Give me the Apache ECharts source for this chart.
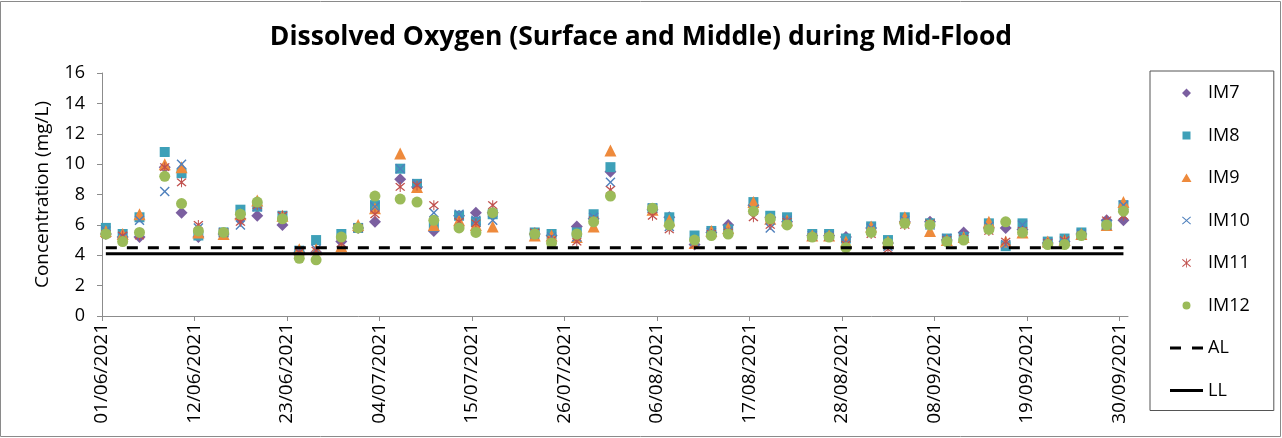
<!DOCTYPE html>
<html>
<head>
<meta charset="utf-8">
<script src="https://cdn.jsdelivr.net/npm/echarts@6/dist/echarts.min.js"></script>
<style>
  html, body { margin: 0; padding: 0; background: #fff; }
  #chart { width: 1282px; height: 438px; }
</style>
</head>
<body>
<div id="chart"></div>
<script>
// sampling dates (mid-flood, surface and middle)
var sampleDates = [
    '2021-06-01', '2021-06-03', '2021-06-05', '2021-06-08', '2021-06-10', '2021-06-12', '2021-06-15',
    '2021-06-17', '2021-06-19', '2021-06-22', '2021-06-24', '2021-06-26', '2021-06-29',
    '2021-07-01', '2021-07-03', '2021-07-06', '2021-07-08', '2021-07-10', '2021-07-13', '2021-07-15',
    '2021-07-17', '2021-07-22', '2021-07-24', '2021-07-27', '2021-07-29', '2021-07-31',
    '2021-08-05', '2021-08-07', '2021-08-10', '2021-08-12', '2021-08-14', '2021-08-17', '2021-08-19',
    '2021-08-21', '2021-08-24', '2021-08-26', '2021-08-28', '2021-08-31',
    '2021-09-02', '2021-09-04', '2021-09-07', '2021-09-09', '2021-09-11', '2021-09-14', '2021-09-16',
    '2021-09-18', '2021-09-21', '2021-09-23', '2021-09-25', '2021-09-28', '2021-09-30'
];
var sampleHour = 11;

var im7 = [5.4, 5.2, 5.2, 9.8, 6.8, 5.2, 5.4, 6.4, 6.6, 6.0, 4.2, 4.2, 4.9,
    5.8, 6.2, 9.0, 8.5, 5.6, 6.6, 6.8, 6.8, 5.4, 5.3, 5.9, 6.4, 9.5,
    7.0, 6.5, 4.7, 5.5, 6.0, 7.3, 6.5, 6.2, 5.3, 5.3, 5.2, 5.8,
    4.8, 6.2, 6.2, 5.0, 5.5, 5.8, 5.8, 5.7, 4.8, 4.9, 5.4, 6.3, 6.3];
var im8 = [5.8, 5.4, 6.5, 10.8, 9.4, 5.3, 5.5, 7.0, 7.2, 6.6, 4.3, 5.0, 5.4,
    5.8, 7.3, 9.7, 8.7, 5.9, 6.6, 6.2, 6.7, 5.5, 5.4, 5.5, 6.7, 9.8,
    7.1, 6.5, 5.3, 5.6, 5.7, 7.5, 6.6, 6.5, 5.4, 5.4, 5.1, 5.9,
    5.0, 6.5, 6.1, 5.1, 5.2, 6.1, 4.6, 6.1, 4.9, 5.1, 5.5, 6.0, 7.3];
var im9 = [5.6, 5.4, 6.7, 10.0, 9.8, 5.5, 5.4, 6.7, 7.6, 6.6, 4.4, 4.4, 4.6,
    6.0, 7.1, 10.7, 8.5, 6.0, 6.3, 6.0, 5.9, 5.3, 5.3, 5.2, 5.9, 10.9,
    7.0, 6.3, 4.8, 5.6, 5.8, 7.5, 6.4, 6.3, 5.3, 5.3, 4.9, 5.9,
    4.9, 6.5, 5.6, 5.0, 5.2, 6.2, 4.9, 5.5, 4.9, 5.0, 5.4, 6.0, 7.5];
var im10 = [5.6, 5.2, 6.3, 8.2, 10.0, 5.8, 5.5, 6.0, 7.2, 6.6, 4.3, 4.4, 4.8,
    5.8, 7.2, 9.7, 8.7, 6.8, 6.7, 6.3, 6.3, 5.4, 5.2, 5.2, 6.5, 8.8,
    7.1, 5.9, 4.9, 5.5, 5.6, 7.0, 5.8, 6.3, 5.3, 5.3, 4.8, 5.8,
    4.6, 6.3, 6.0, 5.1, 5.2, 5.9, 4.7, 6.0, 4.8, 4.9, 5.4, 6.0, 7.3];
var im11 = [5.4, 5.3, 5.3, 9.8, 8.8, 6.0, 5.5, 6.2, 7.3, 6.6, 4.2, 4.3, 4.8,
    5.8, 6.7, 8.5, 8.6, 7.3, 6.2, 6.1, 7.3, 5.5, 5.0, 4.9, 6.3, 8.3,
    6.6, 5.7, 4.7, 5.4, 5.5, 6.5, 6.0, 6.2, 5.2, 5.2, 4.7, 5.4,
    4.4, 6.0, 6.1, 5.0, 5.1, 5.6, 4.9, 5.6, 4.8, 5.0, 5.3, 6.3, 6.6];
var im12 = [5.4, 4.9, 5.5, 9.2, 7.4, 5.6, 5.5, 6.7, 7.5, 6.4, 3.8, 3.7, 5.2,
    5.8, 7.9, 7.7, 7.5, 6.3, 5.8, 5.5, 6.8, 5.4, 4.8, 5.4, 6.2, 7.9,
    7.1, 6.0, 5.0, 5.3, 5.4, 6.9, 6.4, 6.0, 5.2, 5.2, 4.5, 5.5,
    4.8, 6.1, 6.0, 4.9, 5.0, 5.7, 6.2, 5.5, 4.7, 4.7, 5.3, 6.0, 6.9];

var actionLevel = 4.5;
var limitLevel = 4.1;

var axisStart = '2021-06-01';
var axisDays = 122;
var tickDays = 11;

var chart = echarts.init(document.getElementById('chart'));
var FONT = '"Open Sans", sans-serif';

function dayNum(s) {
    var p = s.split('-');
    var a = axisStart.split('-');
    return (Date.UTC(+p[0], p[1] - 1, +p[2]) - Date.UTC(+a[0], a[1] - 1, +a[2])) / 86400000;
}

function dayLabel(v) {
    if (Math.round(v) % tickDays !== 0 || v >= axisDays) return '';
    var a = axisStart.split('-');
    var d = new Date(Date.UTC(+a[0], a[1] - 1, +a[2]) + v * 86400000);
    var dd = ('0' + d.getUTCDate()).slice(-2);
    var mm = ('0' + (d.getUTCMonth() + 1)).slice(-2);
    return dd + '/' + mm + '/' + d.getUTCFullYear();
}

function pts(vals) {
    return vals.map(function (v, i) {
        return [dayNum(sampleDates[i]) + sampleHour / 24, v];
    });
}

function level(v) {
    return sampleDates.map(function (d) {
        return [dayNum(d) + sampleHour / 24, v];
    });
}

var xPath = 'path://M1,0L5,4L9,0L10,1L6,5L10,9L9,10L5,6L1,10L0,9L4,5L0,1Z';
var starPath = 'path://M1,0L5,4L9,0L10,1L6,5L10,9L9,10L5,6L1,10L0,9L4,5L0,1Z M4.5,-1L5.5,-1L5.5,11L4.5,11Z';

// legend icons drawn in a 33x9 box (corner points keep the box size)
var box = 'M0,0Z M33,9Z ';
var legendIcons = {
    IM7: 'path://' + box + 'M16.5,0L21,4.5L16.5,9L12,4.5Z',
    IM8: 'path://' + box + 'M12.5,0.5L20.5,0.5L20.5,8.5L12.5,8.5Z',
    IM9: 'path://' + box + 'M16.5,0L21.5,8.5L11.5,8.5Z',
    IM10: 'path://' + box + 'M12.7,0.5L16.5,3.8L20.3,0.5L21,1.2L17.2,4.5L21,7.8L20.3,8.5L16.5,5.2L12.7,8.5L12,7.8L15.8,4.5L12,1.2Z',
    IM11: 'path://' + box + 'M12.7,0.5L16.5,3.8L20.3,0.5L21,1.2L17.2,4.5L21,7.8L20.3,8.5L16.5,5.2L12.7,8.5L12,7.8L15.8,4.5L12,1.2Z M16.1,0L16.9,0L16.9,9L16.1,9Z',
    IM12: 'path://' + box + 'M12.5,4.5A4,4 0 1,1 20.5,4.5A4,4 0 1,1 12.5,4.5Z',
    AL: 'path://' + box + 'M0,3L11,3L11,6L0,6Z M22,3L33,3L33,6L22,6Z',
    LL: 'path://' + box + 'M0,3L34,3L34,6L0,6Z'
};
var legendNames = ['IM7', 'IM8', 'IM9', 'IM10', 'IM11', 'IM12', 'AL', 'LL'];

function scatter(name, data, symbol, size, color) {
    return {
        name: name,
        type: 'scatter',
        data: pts(data),
        symbol: symbol,
        symbolSize: size,
        itemStyle: { color: color, opacity: 1 }
    };
}

var option = {
    animation: false,
    backgroundColor: '#fff',
    textStyle: { fontFamily: FONT },
    graphic: [{
        type: 'rect',
        shape: { x: 0.5, y: 1.5, width: 1280, height: 435 },
        style: { fill: 'none', stroke: '#8a8a8a', lineWidth: 1 },
        silent: true
    }],
    title: {
        text: 'Dissolved Oxygen (Surface and Middle) during Mid-Flood',
        left: 'center',
        top: 19,
        textStyle: { fontFamily: FONT, fontSize: 26.5, fontWeight: 'bold', color: '#000' }
    },
    legend: {
        orient: 'vertical',
        left: 1150,
        top: 71,
        padding: [13, 24, 11, 20],
        itemWidth: 33,
        itemHeight: 9,
        itemGap: 24.5,
        borderColor: '#555',
        borderWidth: 1,
        backgroundColor: '#fff',
        textStyle: { fontFamily: FONT, fontSize: 18, color: '#000' },
        data: legendNames.map(function (n) {
            return { name: n, icon: legendIcons[n] };
        })
    },
    grid: { left: 102, right: 154, top: 73, bottom: 122 },
    xAxis: {
        type: 'value',
        min: 0,
        max: axisDays,
        interval: tickDays,
        splitLine: { show: false },
        axisLine: { lineStyle: { color: '#8c8c8c', width: 1 } },
        axisTick: { length: 5, lineStyle: { color: '#8c8c8c' } },
        axisLabel: {
            rotate: 90,
            margin: 7,
            fontFamily: FONT,
            fontSize: 19,
            color: '#000',
            showMaxLabel: false,
            formatter: dayLabel
        }
    },
    yAxis: {
        type: 'value',
        min: 0,
        max: 16,
        interval: 2,
        name: 'Concentration (mg/L)',
        nameLocation: 'middle',
        nameGap: 50,
        nameTextStyle: { fontFamily: FONT, fontSize: 19, color: '#000' },
        splitLine: { show: false },
        axisLine: { show: true, lineStyle: { color: '#8c8c8c', width: 1 } },
        axisTick: { show: true, length: 5, lineStyle: { color: '#8c8c8c' } },
        axisLabel: { margin: 17, fontFamily: FONT, fontSize: 18, color: '#000' }
    },
    series: [
        scatter('IM7', im7, 'diamond', 12, '#7b5fa0'),
        scatter('IM8', im8, 'rect', 10, '#3ea0b8'),
        scatter('IM9', im9, 'triangle', 12, '#ee8a3c'),
        scatter('IM10', im10, xPath, 10, '#4f81bd'),
        scatter('IM11', im11, starPath, 10, '#c0504d'),
        scatter('IM12', im12, 'circle', 11, '#9bbb59'),
        {
            name: 'AL',
            type: 'line',
            data: level(actionLevel),
            symbol: 'none',
            itemStyle: { color: '#000' },
            lineStyle: { color: '#000', width: 3, type: [11, 10] }
        },
        {
            name: 'LL',
            type: 'line',
            data: level(limitLevel),
            symbol: 'none',
            itemStyle: { color: '#000' },
            lineStyle: { color: '#000', width: 3 }
        }
    ]
};

chart.setOption(option);
</script>
</body>
</html>
